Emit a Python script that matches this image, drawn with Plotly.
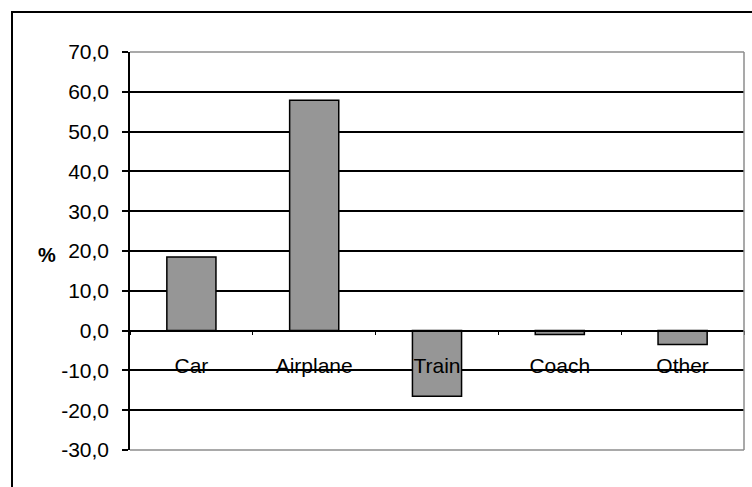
import plotly.graph_objects as go

# Percentage change by mode of transport
categories = ["Car", "Airplane", "Train", "Coach", "Other"]
values = [18.5, 57.9, -16.5, -1.0, -3.5]
y_ticks = [-30, -20, -10, 0, 10, 20, 30, 40, 50, 60, 70]
y_tick_text = [f"{v:.1f}".replace(".", ",") for v in y_ticks]

W, H = 752, 487
L, R, T, B = 130, 8, 52, 37
FONT = "Liberation Sans, Arial, sans-serif"
y_min, y_max = -30, 70
zero_frac = (0 - y_min) / (y_max - y_min)

fig = go.Figure(
    go.Bar(
        x=categories,
        y=values,
        marker=dict(color="#969696", line=dict(color="black", width=1.5)),
        width=0.4,
    )
)

fig.update_layout(
    width=W,
    height=H,
    margin=dict(l=L, r=R, t=T, b=B),
    paper_bgcolor="white",
    plot_bgcolor="white",
    showlegend=False,
    font=dict(family=FONT, size=21, color="black"),
    bargap=0.6,
)

# Category axis sits on the zero line, ticks between categories
fig.update_xaxes(
    anchor="free",
    position=zero_frac,
    showline=True,
    linecolor="black",
    linewidth=1.5,
    ticks="outside",
    tickson="boundaries",
    ticklen=4,
    tickwidth=1,
    tickcolor="black",
    ticklabelstandoff=16,
    showgrid=False,
    zeroline=False,
    tickfont=dict(family=FONT, size=21, color="black"),
)

fig.update_yaxes(
    range=[y_min, y_max],
    tickvals=y_ticks,
    ticktext=y_tick_text,
    showline=True,
    linecolor="black",
    linewidth=1.5,
    ticks="outside",
    ticklen=6,
    tickwidth=1.5,
    tickcolor="black",
    ticklabelstandoff=9,
    showgrid=True,
    gridcolor="black",
    gridwidth=1.5,
    zeroline=False,
    tickfont=dict(family=FONT, size=21, color="black"),
)

# Grey plot-area frame on top, right and bottom
frame = dict(type="line", xref="paper", yref="paper", layer="above",
             line=dict(color="#8c8c8c", width=1.5))
fig.add_shape(x0=0, x1=1, y0=1, y1=1, **frame)
fig.add_shape(x0=1, x1=1, y0=0, y1=1, **frame)
fig.add_shape(x0=0, x1=1, y0=0, y1=0, **frame)

# Outer chart border
fig.add_shape(
    type="rect", xref="paper", yref="paper",
    x0=(12 - L) / (W - L - R), x1=(W + 10 - L) / (W - L - R),
    y0=-(H + 10 - (H - B)) / (H - T - B), y1=1 + (T - 12) / (H - T - B),
    line=dict(color="black", width=2), fillcolor="rgba(0,0,0,0)", layer="above",
)

fig.add_annotation(
    text="<b>%</b>", xref="paper", yref="y", x=(47 - L) / (W - L - R), y=19,
    showarrow=False, xanchor="center", yanchor="middle",
    font=dict(family=FONT, size=20, color="black"),
)

fig.write_html("out.html")
